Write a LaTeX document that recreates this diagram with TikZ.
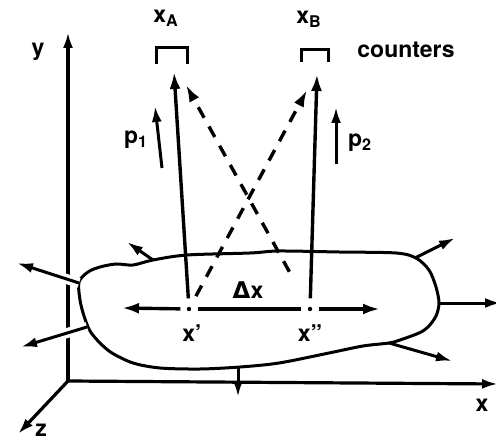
\documentclass[tikz,border=0pt]{standalone}
\usepackage{fontspec}
\setmainfont{TeX Gyre Heros}
\newfontfamily\grkfont{DejaVu Sans}
\usetikzlibrary{arrows.meta}
\tikzset{
  axis/.style={line width=1.6pt,-{Latex[length=8pt,width=5pt]}},
  ray/.style={line width=1.7pt,-{Latex[length=8.5pt,width=5.5pt]}},
  dashray/.style={ray,dash pattern=on 6pt off 5pt},
  flux/.style={line width=1.5pt,-{Latex[length=8pt,width=5pt]}},
  halo/.style={preaction={draw=white,line width=5pt,-}},
  lbl/.style={font=\fontsize{11.5}{13}\selectfont\bfseries,inner sep=0pt},
  counter/.style={line width=1.5pt},
  pt/.style={circle,fill=black,inner sep=0pt,minimum size=2.2pt},
}
\begin{document}
\begin{tikzpicture}[x=0.5pt,y=-0.5pt]
\useasboundingbox (0,0) rectangle (496,442);
% axes
\coordinate (O) at (68,381);
\coordinate (yend) at (68,32);
\coordinate (xend) at (498,384);
\coordinate (zend) at (18,434);
\draw[axis] (O) -- (yend);
\draw[axis] (O) -- (xend);
\draw[axis] (O) -- (zend);
\node[lbl] (ylbl) at (38,52) {y};
\node[lbl] (xlbl) at (482,405) {x};
\node[lbl] (zlbl) at (41,430) {z};

% source region
\draw[line width=1.5pt,fill=white] plot[smooth cycle,tension=0.5] coordinates {
  (79,282) (88,272) (100,267) (116,264) (133,265) (153,260) (187,255)
  (250,253) (279,251) (339,252) (396,253) (416,258) (429,270) (436,287)
  (439,303) (436,316) (428,327) (419,333) (400,340) (389,343) (363,346)
  (329,353) (279,363) (240,367) (200,369) (160,368) (133,363) (112,353)
  (100,343) (90,331) (84,316) (80,300)};

% emission points on the surface
\coordinate (e1) at (79,283);
\coordinate (e2) at (87,327);
\coordinate (e3) at (153,260);
\coordinate (e4) at (415,258);
\coordinate (e5) at (439,303);
\coordinate (e6) at (389,343);
\coordinate (e7) at (238,367);
\coordinate (t1) at (17,263);
\coordinate (t2) at (21,347);
\coordinate (t3) at (127,242);
\coordinate (t4) at (455,238);
\coordinate (t5) at (501,303);
\coordinate (t6) at (452,361);
\coordinate (t7) at (238,397);
\draw[flux,halo] (e1) -- (t1);
\draw[flux,halo] (e2) -- (t2);
\draw[flux] (e3) -- (t3);
\draw[flux] (e4) -- (t4);
\draw[flux] (e5) -- (t5);
\draw[flux] (e6) -- (t6);
\draw[flux] (e7) -- (t7);

% emission points x' and x''
\node[pt] (x1) at (189,309) {};
\node[pt] (x2) at (310,309) {};
\coordinate (dl) at (122,308);
\coordinate (dr) at (380,309);
\draw[ray,shorten <=3pt] (x1) -- (dl);
\draw[ray,shorten <=3pt] (x2) -- (dr);
\draw[line width=1.7pt,shorten <=3pt,shorten >=3pt] (x1) -- (x2);
\node[lbl] (dx) at (248,290) {{\grkfont Δ}x};
\node[lbl] (x1lbl) at (192,333) {x'};
\node[lbl] (x2lbl) at (310,333) {x''};

% counters
\draw[counter] (156,64) -- (156,48) -- (187,48) -- (187,64);
\draw[counter] (301,62) -- (301,50) -- (328,50) -- (328,62);
\node[lbl] (xA) at (166,18) {x\textsubscript{A}};
\node[lbl] (xB) at (309,19) {x\textsubscript{B}};
\node[lbl] (cnt) at (406,50) {counters};
\coordinate (cA) at (174,72);
\coordinate (cB) at (317,74);
\coordinate (cA2) at (186,85);
\coordinate (cB2) at (307,90);

% photon paths
\draw[ray,shorten <=4pt] (x1) -- (cA);
\draw[ray,shorten <=4pt] (x2) -- (cB);
\draw[dashray,shorten <=6pt] (x1) -- (cB2);
\draw[dashray,shorten <=20pt] (x2) -- (cA2);

% momenta
\coordinate (p1s) at (162,168);
\coordinate (p1e) at (155,106);
\coordinate (p2s) at (336,164);
\coordinate (p2e) at (336,107);
\draw[flux] (p1s) -- (p1e);
\draw[flux] (p2s) -- (p2e);
\node[lbl] (p1) at (136,140) {p\textsubscript{1}};
\node[lbl] (p2) at (360,143) {p\textsubscript{2}};
\end{tikzpicture}
\end{document}
